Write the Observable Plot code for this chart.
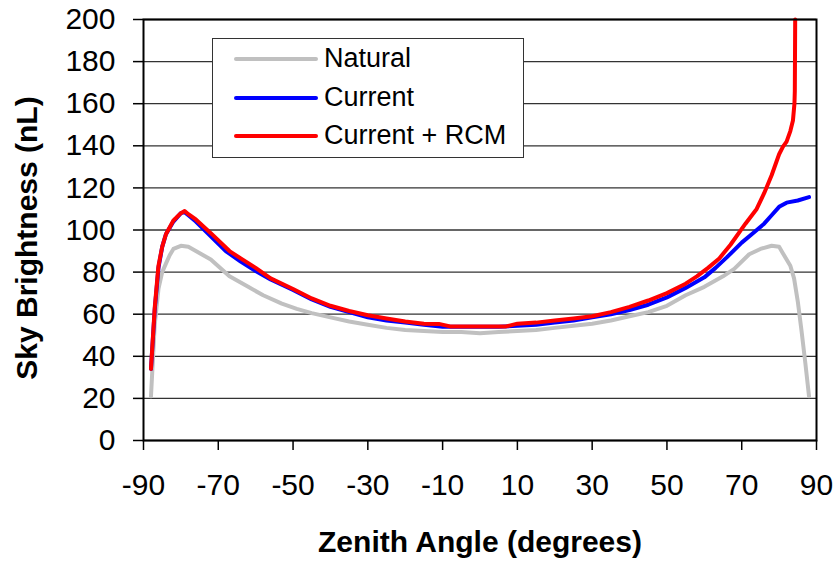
<!DOCTYPE html>
<html>
<head>
<meta charset="utf-8">
<script src="https://cdn.jsdelivr.net/npm/d3@7"></script>
<script src="https://cdn.jsdelivr.net/npm/@observablehq/plot@0.6"></script>
<style>
  html, body { margin: 0; padding: 0; background: #fff; }
  #wrap { position: relative; width: 838px; height: 561px; font-family: "Liberation Sans", Arial, sans-serif; }
  #legend { position: absolute; left: 212px; top: 38px; width: 312px; height: 120px; background: #fff; border: 1px solid #333; box-sizing: border-box; }
  .row { position: absolute; left: 0; height: 0; }
  .sw { position: absolute; left: 21px; width: 84px; height: 4px; margin-top: -2px; border-radius: 2px; }
  .lab { position: absolute; left: 111px; font-size: 27px; line-height: 27px; margin-top: -14px; white-space: nowrap; color: #000; }
</style>
</head>
<body>
<div id="wrap"><div id="legend"></div></div>
<script>
// ---- data ----
const seriesNames = ["Natural", "Current", "Current + RCM"];
const seriesColors = ["#c0c0c0", "#0000ff", "#ff0000"];

const naturalX = [-88, -87, -86, -85, -84, -83, -82, -80, -78, -76, -72, -67, -62, -58, -53, -49, -45, -40, -35, -30, -25, -20, -15, -10, -5, 0, 5, 10, 15, 20, 25, 30, 35, 40, 45, 50, 55, 60, 65, 68, 72, 75, 78, 80, 81, 82, 83, 84, 85, 86, 87, 88];
const naturalY = [21, 55, 72, 80, 84, 88, 91, 92.5, 92, 90, 86, 78, 73, 69, 65, 62.5, 60.5, 58.5, 56.5, 55, 53.5, 52.5, 52, 51.5, 51.5, 51, 51.5, 52, 52.5, 53.5, 54.5, 55.5, 57, 59, 61, 64, 69, 73, 78, 81.5, 88.5, 91, 92.5, 92, 89, 86, 83, 77, 66, 52, 37, 21];

const currentX = [-88, -87, -86, -85, -84, -82, -80, -79, -78, -76, -72, -68, -64, -60, -56, -50, -45, -40, -35, -30, -25, -20, -15, -10, -5, 0, 5, 10, 15, 20, 25, 30, 35, 40, 45, 50, 55, 60, 63, 66, 70, 73, 76, 78, 80, 82, 85, 88];
const currentY = [34, 62, 82, 92, 98, 104, 108, 108.5, 107, 104, 97, 90, 85, 80.5, 76.5, 71.5, 67, 63.5, 61, 58.5, 57, 56, 55, 54, 54, 54, 54, 54.5, 55, 56, 57, 58.5, 60, 62, 64.5, 68, 72.5, 77.5, 82, 87, 94, 98.5, 103, 107, 111, 113, 114, 115.6];

const rcmX = [-88, -87, -86, -85, -84, -82, -80, -79, -78, -76, -72, -67, -64, -60, -56, -50, -45, -40, -35, -30, -25, -20, -15, -11, -8, 0, 7, 10, 15, 20, 25, 30, 35, 40, 45, 50, 55, 58, 61, 64, 67, 71, 74, 76, 78, 80, 81, 82, 83, 83.7, 84.1, 84.2, 84.3];
const rcmY = [34, 63, 83, 92, 98, 104.5, 108, 109, 107.5, 105, 98.5, 90, 86.5, 82, 77, 72, 67.5, 64, 61.5, 59.5, 58, 56.5, 55.5, 55.4, 54.2, 54.2, 54.2, 55.5, 56, 57, 58, 59, 61, 63.5, 66.5, 70, 74.5, 78, 82, 86.5, 93, 103, 110, 117.5, 126, 136, 139.5, 142, 147, 152, 160, 166, 200];

const xTicks = [-90, -70, -50, -30, -10, 10, 30, 50, 70, 90];
const yTicks = [0, 20, 40, 60, 80, 100, 120, 140, 160, 180, 200];
const xTitle = "Zenith Angle (degrees)";
const yTitle = "Sky Brightness (nL)";

// ---- build tables ----
const toRows = (xs, ys, s) => xs.map((x, i) => ({x, y: ys[i], s}));
const natural = toRows(naturalX, naturalY, seriesNames[0]);
const current = toRows(currentX, currentY, seriesNames[1]);
const rcm = toRows(rcmX, rcmY, seriesNames[2]);

const font = "'Liberation Sans', Arial, sans-serif";

const chart = Plot.plot({
  width: 838,
  height: 561,
  marginLeft: 143,
  marginRight: 22,
  marginTop: 19,
  marginBottom: 121,
  style: { fontFamily: font, fontSize: "30px", color: "#000", background: "#fff", overflow: "visible" },
  x: { domain: [-90, 90] },
  y: { domain: [0, 200] },
  marks: [
    Plot.gridY(yTicks, { stroke: "#333", strokeOpacity: 1, strokeWidth: 1.3 }),
    Plot.line(natural, { x: "x", y: "y", stroke: seriesColors[0], strokeWidth: 4, strokeLinejoin: "round" }),
    Plot.line(current, { x: "x", y: "y", stroke: seriesColors[1], strokeWidth: 4, strokeLinejoin: "round" }),
    Plot.line(rcm, { x: "x", y: "y", stroke: seriesColors[2], strokeWidth: 4, strokeLinejoin: "round" }),
    Plot.frame({ stroke: "#000", strokeWidth: 2 }),
    Plot.axisX(xTicks, { tickSize: 10, tickPadding: 23, tickFormat: d => String(d), strokeWidth: 1.5, fontSize: 30, label: null }),
    Plot.axisY(yTicks, { tickSize: 10, tickPadding: 18, tickFormat: d => String(d), strokeWidth: 1.5, fontSize: 30, label: null }),
    Plot.text([xTitle], { text: d => d, frameAnchor: "bottom", dy: 102, fontWeight: "bold", fontSize: 30, lineAnchor: "middle", textAnchor: "middle" }),
    Plot.text([yTitle], { text: d => d, frameAnchor: "left", rotate: -90, dx: -116, dy: 8, fontWeight: "bold", fontSize: 30, lineAnchor: "middle", textAnchor: "middle" })
  ]
});
document.getElementById("wrap").insertBefore(chart, document.getElementById("legend"));

// ---- legend ----
const legend = document.getElementById("legend");
const rowTops = [20, 59, 97];
seriesNames.forEach((name, i) => {
  const row = document.createElement("div");
  row.className = "row";
  row.style.top = rowTops[i] + "px";
  const sw = document.createElement("div");
  sw.className = "sw";
  sw.style.background = seriesColors[i];
  const lab = document.createElement("div");
  lab.className = "lab";
  lab.textContent = name;
  row.appendChild(sw);
  row.appendChild(lab);
  legend.appendChild(row);
});
</script>
</body>
</html>
